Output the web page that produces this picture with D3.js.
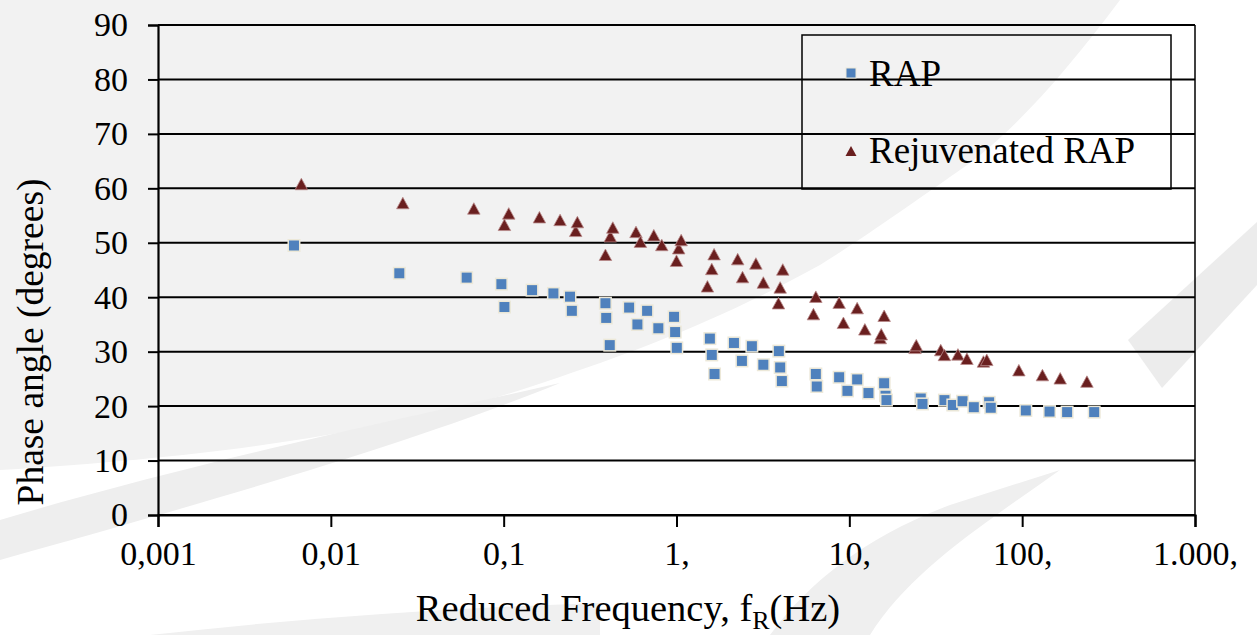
<!DOCTYPE html>
<html>
<head>
<meta charset="utf-8">
<script src="https://cdn.jsdelivr.net/npm/d3@7"></script>
<style>
  html, body { margin: 0; padding: 0; background: #ffffff; }
  svg { display: block; }
  svg text { font-family: "Liberation Serif", "Times New Roman", "DejaVu Serif", serif; fill: #000; }
</style>
</head>
<body>
<svg id="chart" width="1257" height="635"></svg>
<script>
// Reduced frequency (Hz) and phase angle (degrees) for each binder
const rapFreq = [0.00612, 0.0249, 0.0611, 0.097, 0.101, 0.146, 0.194, 0.242, 0.248, 0.388,
  0.392, 0.411, 0.532, 0.594, 0.676, 0.785, 0.968, 0.982, 1.004, 1.56,
  1.60, 1.66, 2.15, 2.39, 2.73, 3.18, 3.91, 3.98, 4.07, 6.40,
  6.48, 8.73, 9.75, 11.1, 12.9, 15.9, 16.2, 16.4, 25.9, 26.5,
  35.5, 39.7, 45.2, 52.5, 64.4, 65.8, 105, 144, 182, 261];
const rapPhase = [49.5, 44.4, 43.6, 42.4, 38.2, 41.3, 40.7, 40.1, 37.5, 38.9,
  36.2, 31.2, 38.1, 35.0, 37.5, 34.3, 36.4, 33.6, 30.7, 32.4,
  29.4, 25.9, 31.6, 28.3, 31.0, 27.6, 30.1, 27.1, 24.6, 25.9,
  23.6, 25.3, 22.8, 24.9, 22.4, 24.2, 21.9, 21.1, 21.4, 20.4,
  21.1, 20.2, 20.9, 19.8, 20.7, 19.7, 19.2, 19.0, 18.9, 18.9];

const rejFreq = [0.00675, 0.0261, 0.0672, 0.101, 0.107, 0.161, 0.212, 0.261, 0.267, 0.388,
  0.414, 0.428, 0.583, 0.618, 0.739, 0.822, 1.00, 1.03, 1.064, 1.51,
  1.60, 1.65, 2.26, 2.41, 2.88, 3.18, 3.89, 3.98, 4.12, 6.2,
  6.4, 8.73, 9.24, 11.1, 12.3, 15.1, 15.3, 15.9, 24.0, 24.4,
  33.8, 35.5, 42.5, 47.9, 59.7, 62.4, 95.7, 131, 166, 237];
const rejPhase = [60.8, 57.3, 56.3, 53.3, 55.4, 54.7, 54.2, 52.2, 53.8, 47.8,
  51.2, 52.8, 52.0, 50.2, 51.4, 49.6, 46.7, 49.0, 50.5, 42.0,
  45.2, 47.9, 47.0, 43.7, 46.2, 42.7, 38.9, 41.8, 45.1, 36.9,
  40.1, 39.0, 35.3, 38.0, 34.1, 32.5, 33.2, 36.6, 30.7, 31.2,
  30.3, 29.4, 29.5, 28.7, 28.2, 28.5, 26.6, 25.7, 25.1, 24.5];

const xTickValues = [0.001, 0.01, 0.1, 1, 10, 100, 1000];
const xTickLabels = ["0,001", "0,01", "0,1", "1,", "10,", "100,", "1.000,"];
const yTickValues = [0, 10, 20, 30, 40, 50, 60, 70, 80, 90];

const seriesNames = ["RAP", "Rejuvenated RAP"];

const FONT = "'Liberation Serif', 'Times New Roman', 'DejaVu Serif', serif";

const svg = d3.select("#chart");
const plot = { left: 158, right: 1195, top: 25, bottom: 515 };

// Soft grey backdrop shapes behind the chart
const bg = svg.append("g");
bg.append("path")
  .attr("d", "M0,0 L1120,0 C1060,80 1010,135 960,170 C900,212 860,240 820,265 C720,320 640,350 545,382 C420,425 250,455 0,470 Z")
  .attr("fill", "#f2f2f2");
bg.append("path")
  .attr("d", "M0,520 C200,460 420,415 560,383 C420,440 250,490 0,560 Z")
  .attr("fill", "#eeeeee");
bg.append("path")
  .attr("d", "M1257,222 L1257,285 L1162,388 L1128,340 Z")
  .attr("fill", "#ececec");
bg.append("path")
  .attr("d", "M770,635 C810,580 870,535 950,505 L1060,470 C990,520 910,570 870,635 Z")
  .attr("fill", "#efefef");
bg.append("path")
  .attr("d", "M150,635 C300,618 450,608 600,603 L600,635 Z")
  .attr("fill", "#f0f0f0");

const x = d3.scaleLog().domain([0.001, 1000]).range([plot.left, plot.right]);
const y = d3.scaleLinear().domain([0, 90]).range([plot.bottom, plot.top]);

// Horizontal gridlines
svg.append("g")
  .selectAll("line")
  .data(yTickValues)
  .join("line")
  .attr("x1", plot.left).attr("x2", plot.right)
  .attr("y1", d => y(d)).attr("y2", d => y(d))
  .attr("stroke", "#000").attr("stroke-width", 2);

// Right border of the plot area
svg.append("line")
  .attr("x1", plot.right).attr("x2", plot.right)
  .attr("y1", plot.top).attr("y2", plot.bottom)
  .attr("stroke", "#000").attr("stroke-width", 1.5);

// Y axis
const yAxis = svg.append("g")
  .attr("transform", `translate(${plot.left},0)`)
  .call(d3.axisLeft(y).tickValues(yTickValues).tickSize(10).tickPadding(20));
yAxis.attr("font-family", FONT).attr("font-size", 34);
yAxis.select(".domain").attr("stroke-width", 2.2);
yAxis.selectAll(".tick line").attr("stroke-width", 2);
yAxis.selectAll(".tick text").style("font-family", FONT).style("font-size", "34px");

// X axis
const xAxis = svg.append("g")
  .attr("transform", `translate(0,${plot.bottom})`)
  .call(d3.axisBottom(x).tickValues(xTickValues).tickSize(12).tickPadding(14)
    .tickFormat((d, i) => xTickLabels[i]));
xAxis.attr("font-family", FONT).attr("font-size", 34);
xAxis.select(".domain").attr("stroke-width", 2.2);
xAxis.selectAll(".tick line").attr("stroke-width", 2);
xAxis.selectAll(".tick text").style("font-family", FONT).style("font-size", "34px");

// Axis titles
svg.append("text")
  .attr("transform", "translate(43,342) rotate(-90)")
  .attr("text-anchor", "middle")
  .style("font-family", FONT).style("font-size", "37.5px")
  .text("Phase angle (degrees)");

const xt = svg.append("text")
  .attr("x", 628).attr("y", 621)
  .attr("text-anchor", "middle")
  .style("font-family", FONT).style("font-size", "38.5px");
xt.append("tspan").text("Reduced Frequency, f");
xt.append("tspan").attr("dy", 8).style("font-size", "26px").text("R");
xt.append("tspan").attr("dy", -8).text("(Hz)");

// Markers
const sq = 11.5;
const triW = 12.5, triH = 11.5;
const triPath = `M0,${-triH / 2} L${triW / 2},${triH / 2} L${-triW / 2},${triH / 2} Z`;

const rapData = rapFreq.map((f, i) => ({ f, v: rapPhase[i] }));
const rejData = rejFreq.map((f, i) => ({ f, v: rejPhase[i] }));

svg.append("g")
  .selectAll("rect")
  .data(rapData)
  .join("rect")
  .attr("x", d => x(d.f) - sq / 2)
  .attr("y", d => y(d.v) - sq / 2)
  .attr("width", sq).attr("height", sq)
  .attr("fill", "#4f81bd")
  .attr("stroke", "#ece8d8").attr("stroke-width", 1.5);

svg.append("g")
  .selectAll("path")
  .data(rejData)
  .join("path")
  .attr("transform", d => `translate(${x(d.f)},${y(d.v)})`)
  .attr("d", triPath)
  .attr("fill", "#6a1f1f")
  .attr("stroke", "#b98a8a").attr("stroke-width", 0.8);

// Legend
const lg = svg.append("g");
lg.append("rect")
  .attr("x", 802).attr("y", 35).attr("width", 369).attr("height", 154)
  .attr("fill", "none").attr("stroke", "#000").attr("stroke-width", 1.5);
lg.append("rect")
  .attr("x", 851 - 5).attr("y", 73 - 5).attr("width", 10).attr("height", 10)
  .attr("fill", "#4f81bd").attr("stroke", "#ece8d8").attr("stroke-width", 1);
lg.append("path")
  .attr("transform", "translate(851,151)")
  .attr("d", "M0,-5 L5.5,5 L-5.5,5 Z")
  .attr("fill", "#6a1f1f");
lg.append("text").attr("x", 869).attr("y", 86)
  .style("font-family", FONT).style("font-size", "37px").text(seriesNames[0]);
lg.append("text").attr("x", 869).attr("y", 163)
  .style("font-family", FONT).style("font-size", "37px").text(seriesNames[1]);
</script>
</body>
</html>
